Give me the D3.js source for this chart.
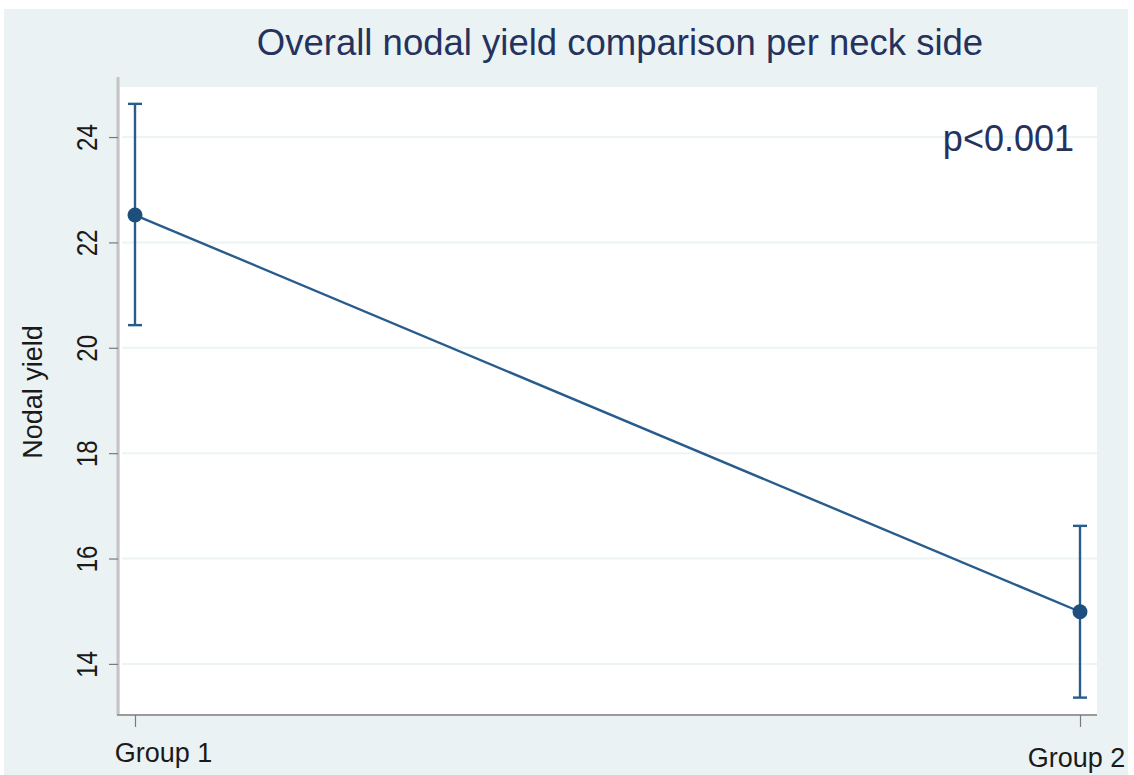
<!DOCTYPE html>
<html>
<head>
<meta charset="utf-8">
<script src="https://cdn.jsdelivr.net/npm/d3@7"></script>
<style>
  html, body { margin: 0; padding: 0; background: #ffffff; }
  svg { display: block; font-family: "Liberation Sans", Arial, sans-serif; }
</style>
</head>
<body>
<svg id="chart" width="1134" height="775"></svg>
<script>
// Mean nodal yield per group with confidence interval bounds
const groups = ["Group 1", "Group 2"];
const means = [22.52, 14.99];
const lowerCI = [20.43, 13.36];
const upperCI = [24.63, 16.62];
const yTicks = [14, 16, 18, 20, 22, 24];
const titleText = "Overall nodal yield comparison per neck side";
const yLabel = "Nodal yield";
const annotation = "p<0.001";

const W = 1134, H = 775;
const plot = { left: 120, top: 87, right: 1097, bottom: 715 };
const navy = "#285c8c";
const textNavy = "#25325e";

const svg = d3.select("#chart");

// outer panel background
svg.append("rect")
  .attr("x", 4).attr("y", 9)
  .attr("width", 1124).attr("height", 766)
  .attr("fill", "#eaf2f3");

// plot region
svg.append("rect")
  .attr("x", plot.left).attr("y", plot.top)
  .attr("width", plot.right - plot.left).attr("height", plot.bottom - plot.top)
  .attr("fill", "#ffffff");

const x = d3.scalePoint()
  .domain(groups)
  .range([plot.left + 15, plot.right - 17]);

const y = d3.scaleLinear()
  .domain([13.03, 24.95])
  .range([plot.bottom, plot.top]);

// horizontal grid lines
svg.append("g")
  .selectAll("line")
  .data(yTicks)
  .join("line")
  .attr("x1", plot.left + 2).attr("x2", plot.right)
  .attr("y1", d => y(d)).attr("y2", d => y(d))
  .attr("stroke", "#edf4f4")
  .attr("stroke-width", 2);

// y axis
const yAxis = svg.append("g")
  .attr("transform", `translate(${plot.left - 2},0)`)
  .call(d3.axisLeft(y).tickValues(yTicks).tickSize(9).tickPadding(12).tickFormat(d3.format("d")));
yAxis.select(".domain")
  .attr("d", `M0,${plot.top - 10}V${plot.bottom}`)
  .attr("stroke", "#c4c4c4")
  .attr("stroke-width", 3);
yAxis.selectAll(".tick line").attr("stroke", "#7a7a7a").attr("stroke-width", 1.2);
yAxis.selectAll(".tick text")
  .attr("fill", "#1a1a1a")
  .attr("font-size", 24)
  .attr("x", null).attr("y", 0)
  .attr("text-anchor", "middle")
  .attr("transform", "translate(-31,0) rotate(-90) scale(1,1.2)")
  .attr("dy", "0.36em");

// x axis
const xAxis = svg.append("g")
  .attr("transform", `translate(0,${plot.bottom})`)
  .call(d3.axisBottom(x).tickSize(12).tickPadding(14));
xAxis.select(".domain")
  .attr("d", `M${plot.left - 3},0H${plot.right}`)
  .attr("stroke", "#9a9a9a")
  .attr("stroke-width", 2);
xAxis.selectAll(".tick line").attr("stroke", "#7a7a7a").attr("stroke-width", 1.2);
xAxis.selectAll(".tick text")
  .attr("fill", "#1a1a1a")
  .attr("font-size", 27)
  .attr("text-anchor", "middle")
  .attr("x", (d, i) => i === 0 ? 28 : -4)
  .attr("y", (d, i) => i === 0 ? 47 : 52)
  .attr("dy", 0)
  .attr("transform", null);

// axis title
svg.append("text")
  .attr("transform", `translate(42,${(plot.top + plot.bottom) / 2 - 9}) rotate(-90)`)
  .attr("text-anchor", "middle")
  .attr("font-size", 27)
  .attr("fill", "#1a1a1a")
  .text(yLabel);

// chart title
svg.append("text")
  .attr("x", 620).attr("y", 55)
  .attr("text-anchor", "middle")
  .attr("font-size", 36.5)
  .attr("fill", textNavy)
  .text(titleText);

// p-value annotation
svg.append("text")
  .attr("x", 1074).attr("y", 151)
  .attr("text-anchor", "end")
  .attr("font-size", 36)
  .attr("fill", textNavy)
  .text(annotation);

const rows = groups.map((g, i) => ({ g, m: means[i], lo: lowerCI[i], hi: upperCI[i] }));

// error bars
const eb = svg.append("g").attr("stroke", navy).attr("stroke-width", 2.4).attr("fill", "none");
eb.selectAll("line.v").data(rows).join("line").attr("class", "v")
  .attr("x1", d => x(d.g)).attr("x2", d => x(d.g))
  .attr("y1", d => y(d.lo)).attr("y2", d => y(d.hi));
eb.selectAll("line.cap-hi").data(rows).join("line").attr("class", "cap-hi")
  .attr("x1", d => x(d.g) - 7).attr("x2", d => x(d.g) + 7)
  .attr("y1", d => y(d.hi)).attr("y2", d => y(d.hi));
eb.selectAll("line.cap-lo").data(rows).join("line").attr("class", "cap-lo")
  .attr("x1", d => x(d.g) - 7).attr("x2", d => x(d.g) + 7)
  .attr("y1", d => y(d.lo)).attr("y2", d => y(d.lo));

// connecting line of means
svg.append("path")
  .datum(rows)
  .attr("fill", "none")
  .attr("stroke", navy)
  .attr("stroke-width", 2.4)
  .attr("d", d3.line().x(d => x(d.g)).y(d => y(d.m)));

// mean markers
svg.append("g")
  .selectAll("circle")
  .data(rows)
  .join("circle")
  .attr("cx", d => x(d.g))
  .attr("cy", d => y(d.m))
  .attr("r", 7.5)
  .attr("fill", "#1d4e7c");
</script>
</body>
</html>
